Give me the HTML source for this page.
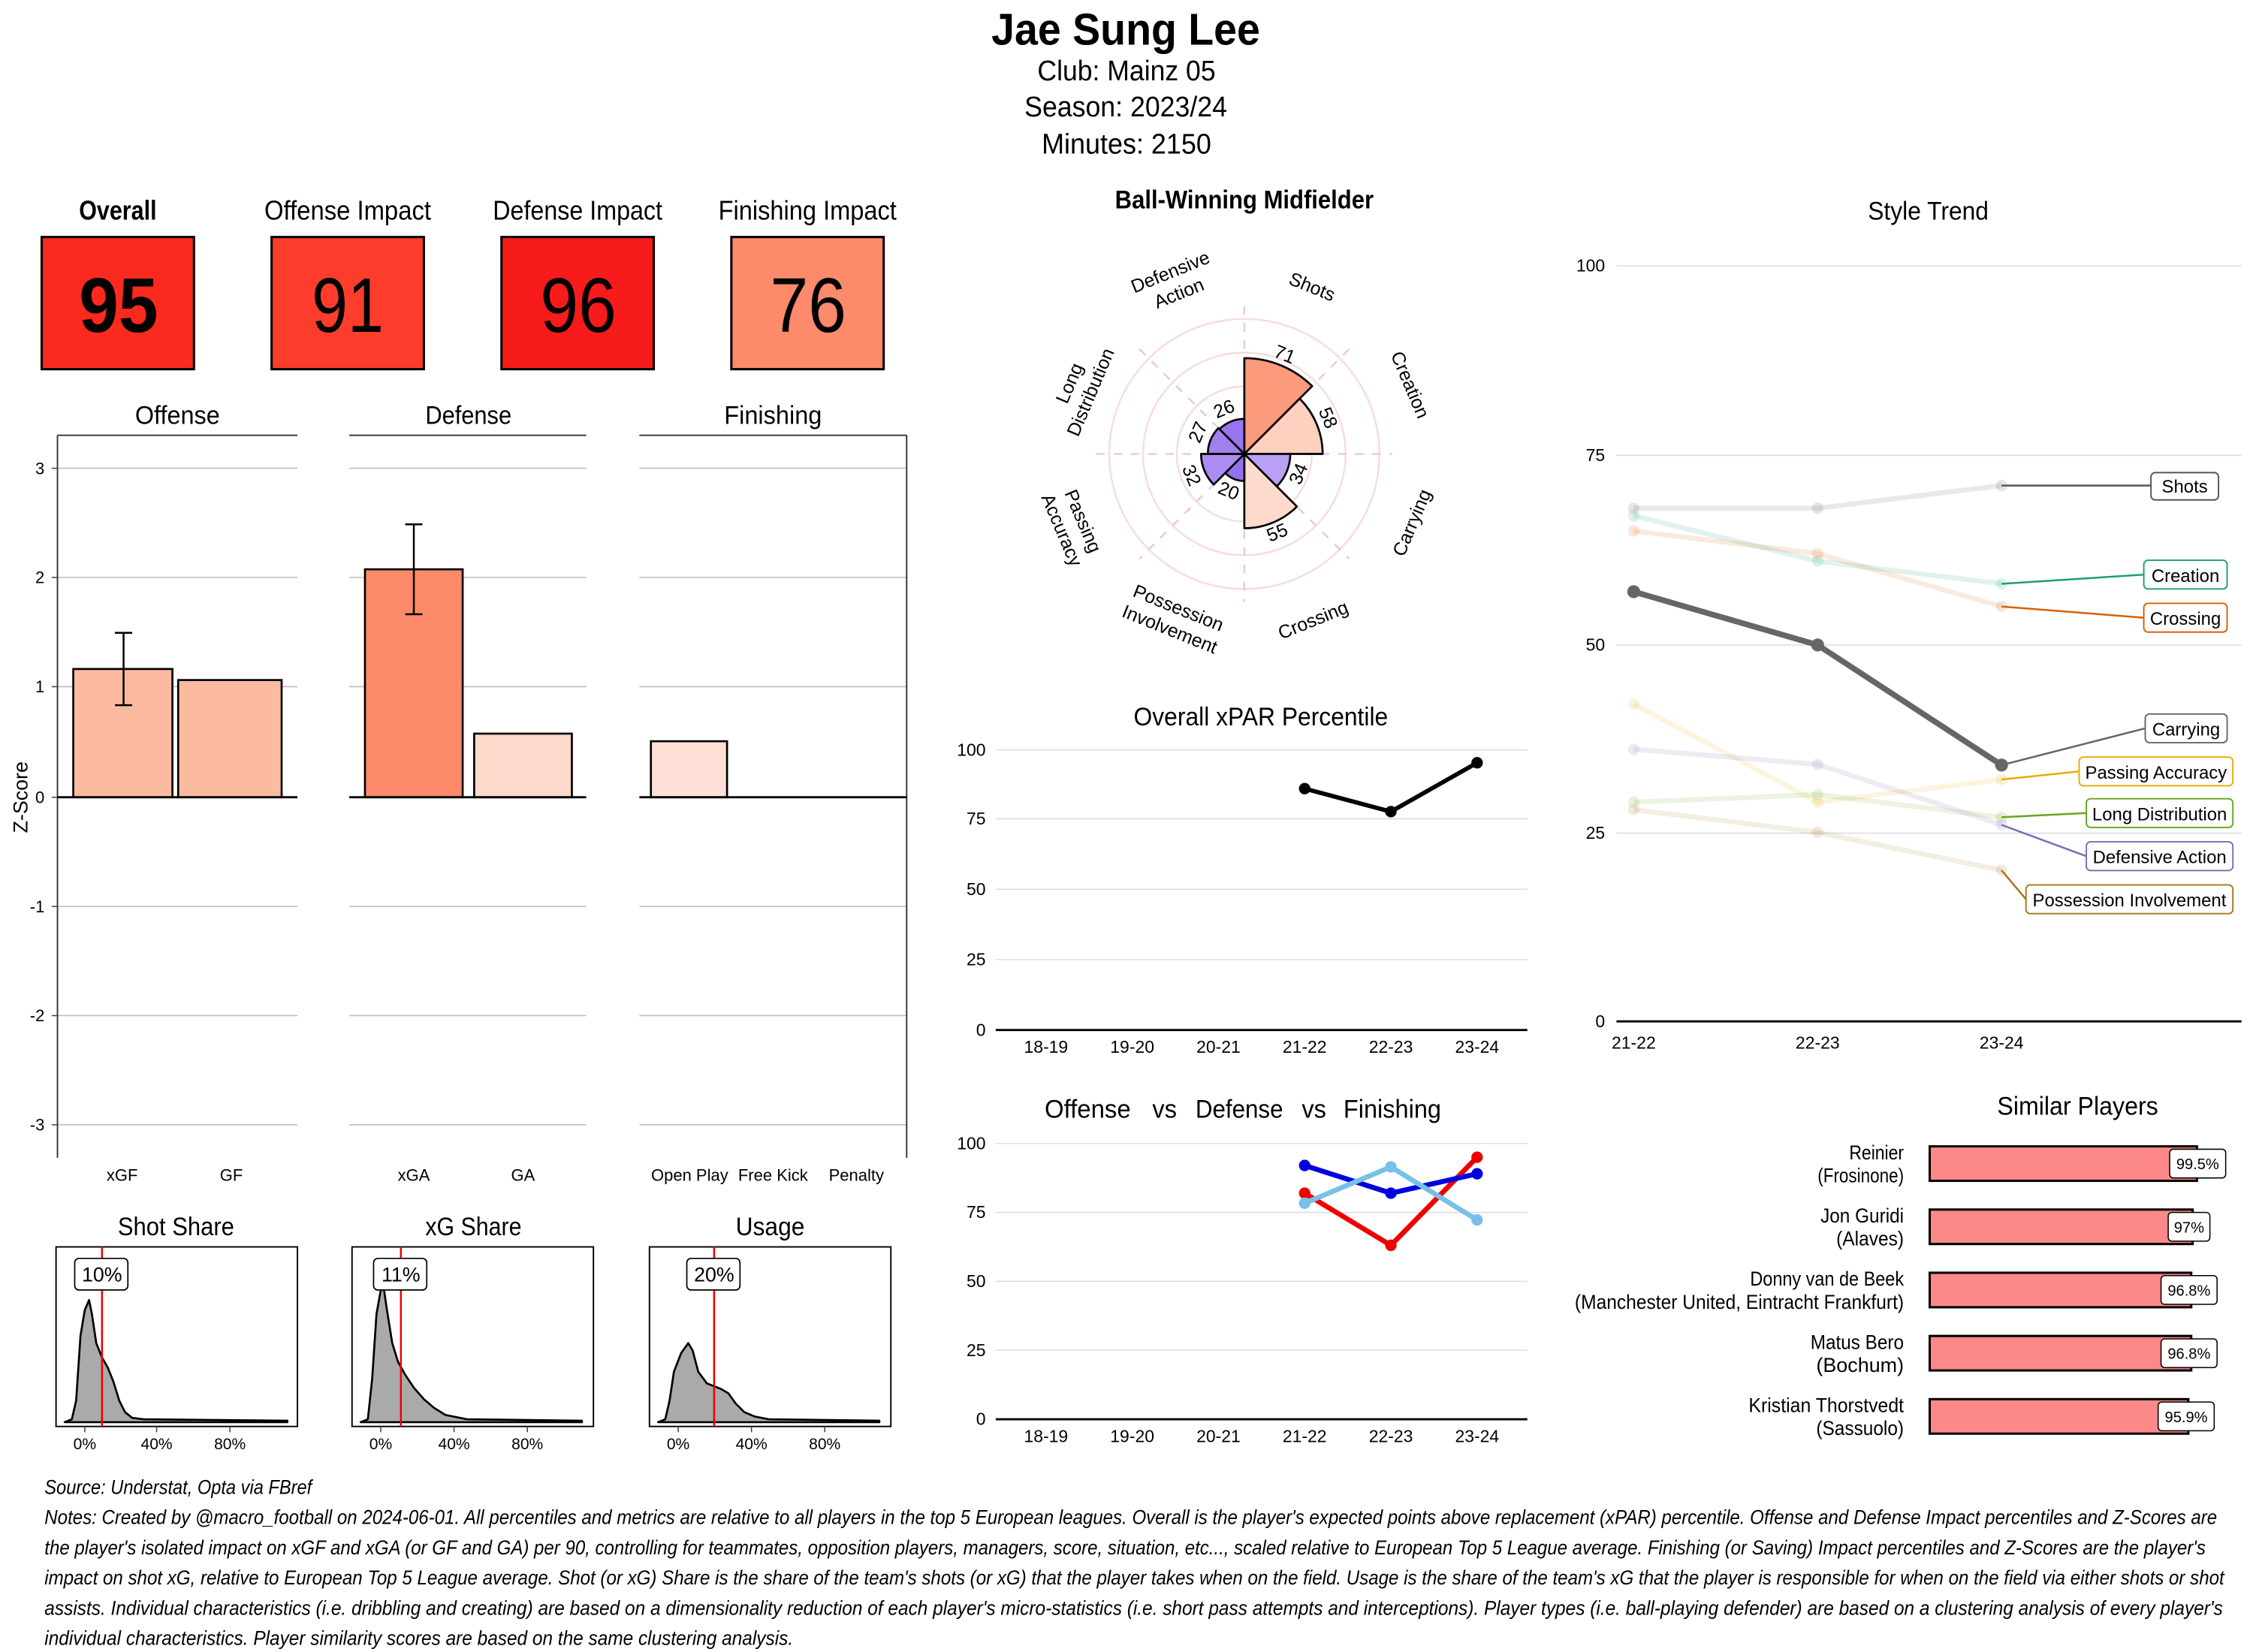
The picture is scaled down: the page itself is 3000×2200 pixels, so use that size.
<!DOCTYPE html>
<html><head><meta charset="utf-8"><style>
html,body{margin:0;padding:0;background:#fff;}
svg{display:block;}
text{font-family:"Liberation Sans Narrow","Liberation Sans",sans-serif;fill:#000;}
.a{font-family:"Liberation Sans",sans-serif;}
</style></head><body>
<svg width="3000" height="2200" viewBox="0 0 1568 1150" preserveAspectRatio="none" xmlns="http://www.w3.org/2000/svg">
<rect width="1568" height="1150" fill="#fff"/>
<!-- Header -->
<text x="690" y="31" font-size="31" font-weight="bold" textLength="187" lengthAdjust="spacingAndGlyphs">Jae Sung Lee</text>
<text x="722" y="56" font-size="20" textLength="124" lengthAdjust="spacingAndGlyphs">Club:  Mainz 05</text>
<text x="713" y="81" font-size="20" textLength="141" lengthAdjust="spacingAndGlyphs">Season:  2023/24</text>
<text x="725" y="107" font-size="20" textLength="118" lengthAdjust="spacingAndGlyphs">Minutes:  2150</text>

<!-- Impact boxes -->
<g font-size="19">
<text x="55" y="153" font-weight="bold" textLength="54" lengthAdjust="spacingAndGlyphs">Overall</text>
<text x="184" y="153" textLength="116" lengthAdjust="spacingAndGlyphs">Offense Impact</text>
<text x="343" y="153" textLength="118" lengthAdjust="spacingAndGlyphs">Defense Impact</text>
<text x="500" y="153" textLength="124" lengthAdjust="spacingAndGlyphs">Finishing Impact</text>
</g>
<g stroke="#000" stroke-width="1.6">
<rect x="29" y="165" width="106" height="92" fill="#fb2a1e"/>
<rect x="189" y="165" width="106" height="92" fill="#fc3d2b"/>
<rect x="349" y="165" width="106" height="92" fill="#f71c1b"/>
<rect x="509" y="165" width="106" height="92" fill="#fc8a6b"/>
</g>
<g font-size="54">
<text x="55" y="231" font-weight="bold" textLength="55" lengthAdjust="spacingAndGlyphs">95</text>
<text x="217" y="231" textLength="50" lengthAdjust="spacingAndGlyphs">91</text>
<text x="376" y="231" textLength="53" lengthAdjust="spacingAndGlyphs">96</text>
<text x="536" y="231" textLength="53" lengthAdjust="spacingAndGlyphs">76</text>
</g>

<!-- Z score panels -->
<g font-size="18">
<text x="94" y="295" textLength="59" lengthAdjust="spacingAndGlyphs">Offense</text>
<text x="296" y="295" textLength="60" lengthAdjust="spacingAndGlyphs">Defense</text>
<text x="504" y="295" textLength="68" lengthAdjust="spacingAndGlyphs">Finishing</text>
</g>
<g stroke="#bbb" stroke-width="0.8">
<line x1="40" x2="207" y1="326" y2="326"/><line x1="40" x2="207" y1="402" y2="402"/><line x1="40" x2="207" y1="478" y2="478"/><line x1="40" x2="207" y1="631" y2="631"/><line x1="40" x2="207" y1="707" y2="707"/><line x1="40" x2="207" y1="783" y2="783"/>
<line x1="243" x2="408" y1="326" y2="326"/><line x1="243" x2="408" y1="402" y2="402"/><line x1="243" x2="408" y1="478" y2="478"/><line x1="243" x2="408" y1="631" y2="631"/><line x1="243" x2="408" y1="707" y2="707"/><line x1="243" x2="408" y1="783" y2="783"/>
<line x1="445" x2="631" y1="326" y2="326"/><line x1="445" x2="631" y1="402" y2="402"/><line x1="445" x2="631" y1="478" y2="478"/><line x1="445" x2="631" y1="631" y2="631"/><line x1="445" x2="631" y1="707" y2="707"/><line x1="445" x2="631" y1="783" y2="783"/>
</g>
<g stroke="#333" stroke-width="1" fill="none">
<line x1="40" x2="207" y1="303" y2="303"/><line x1="40" x2="40" y1="303" y2="806"/>
<line x1="243" x2="408" y1="303" y2="303"/>
<line x1="445" x2="631" y1="303" y2="303"/><line x1="631" x2="631" y1="303" y2="806"/>
</g>
<g stroke="#000" stroke-width="1.4">
<rect x="51" y="465.7" width="69" height="89.3" fill="#fcbba1"/>
<rect x="124" y="473.4" width="72" height="81.6" fill="#fcbba1"/>
<rect x="254" y="396.3" width="68" height="158.7" fill="#fc8a6a"/>
<rect x="330" y="510.7" width="68" height="44.3" fill="#fdd9cb"/>
<rect x="453" y="516" width="53" height="39" fill="#fee0d6"/>
</g>
<g stroke="#000" stroke-width="1.3">
<line x1="86" x2="86" y1="440.5" y2="490.9"/><line x1="80" x2="92" y1="440.5" y2="440.5"/><line x1="80" x2="92" y1="490.9" y2="490.9"/>
<line x1="288" x2="288" y1="365" y2="427.6"/><line x1="282" x2="294" y1="365" y2="365"/><line x1="282" x2="294" y1="427.6" y2="427.6"/>
<line x1="40" x2="207" y1="555" y2="555" stroke-width="1.5"/><line x1="243" x2="408" y1="555" y2="555" stroke-width="1.5"/><line x1="445" x2="631" y1="555" y2="555" stroke-width="1.5"/>
</g>
<g font-size="11.5" fill="#444" text-anchor="end">
<text x="31" y="330">3</text><text x="31" y="406">2</text><text x="31" y="482">1</text><text x="31" y="559">0</text><text x="31" y="635">-1</text><text x="31" y="711">-2</text><text x="31" y="787">-3</text>
</g>
<g stroke="#444" stroke-width="0.8"><line x1="36" x2="40" y1="326" y2="326"/><line x1="36" x2="40" y1="402" y2="402"/><line x1="36" x2="40" y1="478" y2="478"/><line x1="36" x2="40" y1="555" y2="555"/><line x1="36" x2="40" y1="631" y2="631"/><line x1="36" x2="40" y1="707" y2="707"/><line x1="36" x2="40" y1="783" y2="783"/></g>
<text x="19" y="555" font-size="14" class="a" text-anchor="middle" transform="rotate(-90 19 555)">Z-Score</text>
<g font-size="11.5" fill="#444" text-anchor="middle">
<text x="85" y="822">xGF</text><text x="161" y="822">GF</text><text x="288" y="822">xGA</text><text x="364" y="822">GA</text>
<text x="480" y="822">Open Play</text><text x="538" y="822">Free Kick</text><text x="596" y="822">Penalty</text>
</g>

<!-- Density plots -->
<g font-size="18">
<text x="82" y="860" textLength="81" lengthAdjust="spacingAndGlyphs">Shot Share</text><text x="296" y="860" textLength="67" lengthAdjust="spacingAndGlyphs">xG Share</text><text x="512" y="860" textLength="48" lengthAdjust="spacingAndGlyphs">Usage</text>
</g>
<g stroke="#000" stroke-width="1" fill="none">
<rect x="39" y="868" width="168" height="125"/><rect x="245" y="868" width="168" height="125"/><rect x="452" y="868" width="168" height="125"/>
</g>
<g fill="#aaa" stroke="#000" stroke-width="1.4" stroke-linejoin="round">
<path d="M45,990 L50,988 L53,975 L56,930 L59,912 L62,905 L64,915 L67,935 L71,945 L75,952 L79,962 L83,975 L87,983 L92,987 L100,988 L200,989 L200,990 Z"/>
<path d="M251,990 L256,988 L259,960 L262,915 L265,898 L267,896 L269,910 L273,935 L277,948 L282,957 L288,966 L295,974 L302,980 L310,985 L325,988 L405,989 L405,990 Z"/>
<path d="M458,990 L463,988 L466,975 L469,955 L474,942 L479,935 L482,940 L486,955 L492,963 L497,965 L502,967 L507,970 L512,977 L518,983 L525,986 L535,988 L612,989 L612,990 Z"/>
</g>
<g stroke="#e00" stroke-width="1.3"><line x1="71" x2="71" y1="868" y2="993"/><line x1="279" x2="279" y1="868" y2="993"/><line x1="497" x2="497" y1="868" y2="993"/></g>
<g fill="#fff" stroke="#000" stroke-width="0.9">
<rect x="52" y="876" width="37" height="22" rx="3"/><rect x="260" y="876" width="37" height="22" rx="3"/><rect x="478" y="876" width="37" height="22" rx="3"/>
</g>
<g font-size="14" text-anchor="middle"><text x="71" y="892">10%</text><text x="279" y="892">11%</text><text x="497" y="892">20%</text></g>
<g stroke="#444" stroke-width="0.8"><line x1="59" x2="59" y1="993" y2="997"/><line x1="109" x2="109" y1="993" y2="997"/><line x1="160" x2="160" y1="993" y2="997"/><line x1="265" x2="265" y1="993" y2="997"/><line x1="316" x2="316" y1="993" y2="997"/><line x1="367" x2="367" y1="993" y2="997"/><line x1="472" x2="472" y1="993" y2="997"/><line x1="523" x2="523" y1="993" y2="997"/><line x1="574" x2="574" y1="993" y2="997"/></g>
<g font-size="11" fill="#444" text-anchor="middle">
<text x="59" y="1009">0%</text><text x="109" y="1009">40%</text><text x="160" y="1009">80%</text>
<text x="265" y="1009">0%</text><text x="316" y="1009">40%</text><text x="367" y="1009">80%</text>
<text x="472" y="1009">0%</text><text x="523" y="1009">40%</text><text x="574" y="1009">80%</text>
</g>

<!-- Radar -->
<text x="776" y="145" font-size="18" font-weight="bold" textLength="180" lengthAdjust="spacingAndGlyphs">Ball-Winning Midfielder</text>
<g fill="none" stroke="#f8dcdc" stroke-width="1.3">
<circle cx="866" cy="316" r="94"/><circle cx="866" cy="316" r="70.5"/><circle cx="866" cy="316" r="47"/>
</g>
<g stroke="#e8c8c8" stroke-width="1.2" stroke-dasharray="6,6">
<line x1="866" y1="213" x2="866" y2="419"/><line x1="763" y1="316" x2="969" y2="316"/>
<line x1="793" y1="243" x2="939" y2="389"/><line x1="939" y1="243" x2="793" y2="389"/>
</g>
<g stroke="#000" stroke-width="1.4" stroke-linejoin="round">
<path d="M866,316 L866,249.3 A66.7,66.7 0 0 1 913.2,268.8 Z" fill="#fc9a7c"/>
<path d="M866,316 L904.5,277.5 A54.5,54.5 0 0 1 920.5,316 Z" fill="#fdd0c0"/>
<path d="M866,316 L898,316 A32,32 0 0 1 888.6,338.6 Z" fill="#b9a0f5"/>
<path d="M866,316 L902.6,352.6 A51.7,51.7 0 0 1 866,367.7 Z" fill="#fddacc"/>
<path d="M866,316 L866,334.8 A18.8,18.8 0 0 1 852.7,329.3 Z" fill="#9470ee"/>
<path d="M866,316 L844.7,337.3 A30.1,30.1 0 0 1 835.9,316 Z" fill="#ab8cf2"/>
<path d="M866,316 L840.6,316 A25.4,25.4 0 0 1 848,298 Z" fill="#a080f0"/>
<path d="M866,316 L848.7,298.7 A24.4,24.4 0 0 1 866,291.6 Z" fill="#9a74ef"/>
</g>
<g font-size="13" class="a" text-anchor="middle">
<text class="a" x="894" y="251" transform="rotate(22 894 247)">71</text>
<text class="a" x="924" y="295" transform="rotate(67 924 291)">58</text>
<text class="a" x="904" y="334" transform="rotate(-67 904 330)">34</text>
<text class="a" x="889" y="375" transform="rotate(-22 889 371)">55</text>
<text class="a" x="855" y="346" transform="rotate(22 855 342)">20</text>
<text class="a" x="829" y="335" transform="rotate(67 829 331)">32</text>
<text class="a" x="834" y="305" transform="rotate(-67 834 301)">27</text>
<text class="a" x="852" y="289" transform="rotate(-22 852 285)">26</text>
</g>
<g font-size="13" text-anchor="middle">
<g transform="rotate(-22 818 198)"><text class="a" x="818" y="193">Defensive</text><text class="a" x="818" y="209">Action</text></g>
<text class="a" x="913" y="204" transform="rotate(22 913 200)">Shots</text>
<text class="a" x="981" y="272" transform="rotate(67 981 268)">Creation</text>
<text class="a" x="983" y="368" transform="rotate(-67 983 364)">Carrying</text>
<text class="a" x="914" y="436" transform="rotate(-22 914 432)">Crossing</text>
<g transform="rotate(22 817 431)"><text class="a" x="817" y="427">Possession</text><text class="a" x="817" y="443">Involvement</text></g>
<g transform="rotate(67 746 366)"><text class="a" x="746" y="362">Passing</text><text class="a" x="746" y="378">Accuracy</text></g>
<g transform="rotate(-67 752 270)"><text class="a" x="752" y="266">Long</text><text class="a" x="752" y="282">Distribution</text></g>
</g>

<!-- Overall xPAR -->
<text x="789" y="505" font-size="18" textLength="177" lengthAdjust="spacingAndGlyphs">Overall xPAR Percentile</text>
<g stroke="#ddd" stroke-width="0.8"><line x1="693" x2="1063" y1="522" y2="522"/><line x1="693" x2="1063" y1="570" y2="570"/><line x1="693" x2="1063" y1="619" y2="619"/><line x1="693" x2="1063" y1="668" y2="668"/></g>
<line x1="693" x2="1063" y1="717" y2="717" stroke="#000" stroke-width="1.5"/>
<g font-size="12" fill="#444" class="a" text-anchor="end"><text class="a" x="686" y="526" fill="#444">100</text><text class="a" x="686" y="574" fill="#444">75</text><text class="a" x="686" y="623" fill="#444">50</text><text class="a" x="686" y="672" fill="#444">25</text><text class="a" x="686" y="721" fill="#444">0</text></g>
<g font-size="12" text-anchor="middle"><text class="a" x="728" y="733" fill="#444">18-19</text><text class="a" x="788" y="733" fill="#444">19-20</text><text class="a" x="848" y="733" fill="#444">20-21</text><text class="a" x="908" y="733" fill="#444">21-22</text><text class="a" x="968" y="733" fill="#444">22-23</text><text class="a" x="1028" y="733" fill="#444">23-24</text></g>
<polyline points="908,549 968,565 1028,531" fill="none" stroke="#000" stroke-width="3"/>
<g fill="#000"><circle cx="908" cy="549" r="4"/><circle cx="968" cy="565" r="4"/><circle cx="1028" cy="531" r="4"/></g>

<!-- Offense vs Defense vs Finishing -->
<g font-size="18">
<text x="727" y="778" fill="#0000dd" textLength="60" lengthAdjust="spacingAndGlyphs">Offense</text><text x="802" y="778" textLength="17" lengthAdjust="spacingAndGlyphs">vs</text><text x="832" y="778" fill="#ee0000" textLength="61" lengthAdjust="spacingAndGlyphs">Defense</text><text x="906" y="778" textLength="17" lengthAdjust="spacingAndGlyphs">vs</text><text x="935" y="778" fill="#78c0e8" textLength="68" lengthAdjust="spacingAndGlyphs">Finishing</text>
</g>
<g stroke="#ddd" stroke-width="0.8"><line x1="693" x2="1063" y1="796" y2="796"/><line x1="693" x2="1063" y1="844" y2="844"/><line x1="693" x2="1063" y1="892" y2="892"/><line x1="693" x2="1063" y1="940" y2="940"/></g>
<line x1="693" x2="1063" y1="988" y2="988" stroke="#000" stroke-width="1.5"/>
<g font-size="12" text-anchor="end"><text class="a" x="686" y="800" fill="#444">100</text><text class="a" x="686" y="848" fill="#444">75</text><text class="a" x="686" y="896" fill="#444">50</text><text class="a" x="686" y="944" fill="#444">25</text><text class="a" x="686" y="992" fill="#444">0</text></g>
<g font-size="12" text-anchor="middle"><text class="a" x="728" y="1004" fill="#444">18-19</text><text class="a" x="788" y="1004" fill="#444">19-20</text><text class="a" x="848" y="1004" fill="#444">20-21</text><text class="a" x="908" y="1004" fill="#444">21-22</text><text class="a" x="968" y="1004" fill="#444">22-23</text><text class="a" x="1028" y="1004" fill="#444">23-24</text></g>
<g fill="none" stroke-width="3.5">
<polyline points="908,830.6 968,866.9 1028,805.6" stroke="#ee0000"/>
<polyline points="908,811.3 968,830.6 1028,817.1" stroke="#0000dd"/>
<polyline points="908,837.6 968,812.3 1028,849.2" stroke="#78c0e8"/>
</g>
<g><circle cx="908" cy="830.6" r="4" fill="#ee0000"/><circle cx="968" cy="866.9" r="4" fill="#ee0000"/><circle cx="1028" cy="805.6" r="4" fill="#ee0000"/>
<circle cx="908" cy="811.3" r="4" fill="#0000dd"/><circle cx="968" cy="830.6" r="4" fill="#0000dd"/><circle cx="1028" cy="817.1" r="4" fill="#0000dd"/>
<circle cx="908" cy="837.6" r="4" fill="#78c0e8"/><circle cx="968" cy="812.3" r="4" fill="#78c0e8"/><circle cx="1028" cy="849.2" r="4" fill="#78c0e8"/></g>

<!-- Style Trend -->
<text x="1300" y="153" font-size="18" textLength="84" lengthAdjust="spacingAndGlyphs">Style Trend</text>
<g stroke="#ddd" stroke-width="0.8"><line x1="1125" x2="1560" y1="185" y2="185"/><line x1="1125" x2="1560" y1="317" y2="317"/><line x1="1125" x2="1560" y1="449" y2="449"/><line x1="1125" x2="1560" y1="580" y2="580"/></g>
<line x1="1125" x2="1560" y1="711" y2="711" stroke="#000" stroke-width="1.5"/>
<g font-size="12" text-anchor="end"><text class="a" x="1117" y="189" fill="#444">100</text><text class="a" x="1117" y="321" fill="#444">75</text><text class="a" x="1117" y="453" fill="#444">50</text><text class="a" x="1117" y="584" fill="#444">25</text><text class="a" x="1117" y="715" fill="#444">0</text></g>
<g font-size="12" text-anchor="middle"><text class="a" x="1137" y="730" fill="#444">21-22</text><text class="a" x="1265" y="730" fill="#444">22-23</text><text class="a" x="1393" y="730" fill="#444">23-24</text></g>
<g fill="none" stroke-width="3.5" stroke-opacity="0.13">
<polyline points="1137,353.8 1265,353.8 1393,338" stroke="#555"/>
<polyline points="1137,359 1265,390.6 1393,406.4" stroke="#1b9e77"/>
<polyline points="1137,369.6 1265,385.4 1393,422.2" stroke="#d95f02"/>
<polyline points="1137,490 1265,558.4 1393,542.6" stroke="#e6ab02"/>
<polyline points="1137,558.4 1265,553.1 1393,568.9" stroke="#66a61e"/>
<polyline points="1137,521.6 1265,532.1 1393,574.2" stroke="#7570b3"/>
<polyline points="1137,563.6 1265,579.4 1393,605.8" stroke="#a6761d"/>
</g>
<g fill-opacity="0.15">
<circle cx="1137" cy="353.8" r="4" fill="#555"/><circle cx="1265" cy="353.8" r="4" fill="#555"/><circle cx="1393" cy="338" r="4" fill="#555"/>
<circle cx="1137" cy="359" r="4" fill="#1b9e77"/><circle cx="1265" cy="390.6" r="4" fill="#1b9e77"/><circle cx="1393" cy="406.4" r="4" fill="#1b9e77"/>
<circle cx="1137" cy="369.6" r="4" fill="#d95f02"/><circle cx="1265" cy="385.4" r="4" fill="#d95f02"/><circle cx="1393" cy="422.2" r="4" fill="#d95f02"/>
<circle cx="1137" cy="490" r="4" fill="#e6ab02"/><circle cx="1265" cy="558.4" r="4" fill="#e6ab02"/><circle cx="1393" cy="542.6" r="4" fill="#e6ab02"/>
<circle cx="1137" cy="558.4" r="4" fill="#66a61e"/><circle cx="1265" cy="553.1" r="4" fill="#66a61e"/><circle cx="1393" cy="568.9" r="4" fill="#66a61e"/>
<circle cx="1137" cy="521.6" r="4" fill="#7570b3"/><circle cx="1265" cy="532.1" r="4" fill="#7570b3"/><circle cx="1393" cy="574.2" r="4" fill="#7570b3"/>
<circle cx="1137" cy="563.6" r="4" fill="#a6761d"/><circle cx="1265" cy="579.4" r="4" fill="#a6761d"/><circle cx="1393" cy="605.8" r="4" fill="#a6761d"/>
</g>
<polyline points="1137,411.9 1265,449 1393,532.6" fill="none" stroke="#666" stroke-width="4"/>
<g fill="#666"><circle cx="1137" cy="411.9" r="4.5"/><circle cx="1265" cy="449" r="4.5"/><circle cx="1393" cy="532.6" r="4.5"/></g>
<g fill="none" stroke-width="1.3">
<line x1="1393" y1="338" x2="1497" y2="338" stroke="#555"/>
<line x1="1393" y1="406.4" x2="1492" y2="400" stroke="#1b9e77"/>
<line x1="1393" y1="422.2" x2="1492" y2="430" stroke="#d95f02"/>
<line x1="1393" y1="532.6" x2="1493" y2="507" stroke="#666"/>
<line x1="1393" y1="542.6" x2="1447" y2="537" stroke="#e6ab02"/>
<line x1="1393" y1="568.9" x2="1452" y2="566" stroke="#66a61e"/>
<line x1="1393" y1="574.2" x2="1452" y2="596" stroke="#7570b3"/>
<path d="M1393,605.8 L1410,626" stroke="#a6761d"/>
</g>
<g fill="#fff" stroke-width="1">
<rect x="1497" y="329" width="47" height="19" rx="3" stroke="#555"/>
<rect x="1492" y="390" width="58" height="20" rx="3" stroke="#1b9e77"/>
<rect x="1492" y="420" width="58" height="20" rx="3" stroke="#d95f02"/>
<rect x="1493" y="497" width="57" height="20" rx="3" stroke="#666"/>
<rect x="1447" y="527" width="107" height="20" rx="3" stroke="#e6ab02"/>
<rect x="1452" y="556" width="102" height="20" rx="3" stroke="#66a61e"/>
<rect x="1452" y="586" width="102" height="20" rx="3" stroke="#7570b3"/>
<rect x="1410" y="616" width="144" height="20" rx="3" stroke="#a6761d"/>
</g>
<g font-size="12.5" text-anchor="middle">
<text class="a" x="1520.5" y="343" fill="#555">Shots</text>
<text class="a" x="1521" y="405" fill="#1b9e77">Creation</text>
<text class="a" x="1521" y="435" fill="#d95f02">Crossing</text>
<text class="a" x="1521.5" y="512" fill="#666">Carrying</text>
<text class="a" x="1500.5" y="542" fill="#e6ab02">Passing Accuracy</text>
<text class="a" x="1503" y="571" fill="#66a61e">Long Distribution</text>
<text class="a" x="1503" y="601" fill="#7570b3">Defensive Action</text>
<text class="a" x="1482" y="631" fill="#a6761d">Possession Involvement</text>
</g>

<!-- Similar Players -->
<text x="1390" y="776" font-size="18" textLength="112" lengthAdjust="spacingAndGlyphs">Similar Players</text>
<g fill="#fd8888" stroke="#000" stroke-width="1.6">
<rect x="1343" y="798" width="186" height="24"/>
<rect x="1343" y="842" width="183" height="24"/>
<rect x="1343" y="886" width="182" height="24"/>
<rect x="1343" y="930" width="182" height="24"/>
<rect x="1343" y="974" width="180" height="24"/>
</g>
<g fill="#fff" stroke="#000" stroke-width="0.8">
<rect x="1510" y="800" width="39" height="20" rx="2.5"/>
<rect x="1509" y="844" width="29" height="20" rx="2.5"/>
<rect x="1504" y="888" width="39" height="20" rx="2.5"/>
<rect x="1504" y="932" width="39" height="20" rx="2.5"/>
<rect x="1502" y="976" width="39" height="20" rx="2.5"/>
</g>
<g font-size="10.5" text-anchor="middle">
<text class="a" x="1529.5" y="814">99.5%</text><text class="a" x="1523.5" y="858">97%</text><text class="a" x="1523.5" y="902">96.8%</text><text class="a" x="1523.5" y="946">96.8%</text><text class="a" x="1521.5" y="990">95.9%</text>
</g>
<g font-size="14">
<text x="1287" y="807" textLength="38" lengthAdjust="spacingAndGlyphs">Reinier</text><text x="1265" y="823" textLength="60" lengthAdjust="spacingAndGlyphs">(Frosinone)</text>
<text x="1267" y="851" textLength="58" lengthAdjust="spacingAndGlyphs">Jon Guridi</text><text x="1278" y="867" textLength="47" lengthAdjust="spacingAndGlyphs">(Alaves)</text>
<text x="1218" y="895" textLength="107" lengthAdjust="spacingAndGlyphs">Donny van de Beek</text><text x="1096" y="911" textLength="229" lengthAdjust="spacingAndGlyphs">(Manchester United, Eintracht Frankfurt)</text>
<text x="1260" y="939" textLength="65" lengthAdjust="spacingAndGlyphs">Matus Bero</text><text x="1264" y="955" textLength="61" lengthAdjust="spacingAndGlyphs">(Bochum)</text>
<text x="1217" y="983" textLength="108" lengthAdjust="spacingAndGlyphs">Kristian Thorstvedt</text><text x="1264" y="999" textLength="61" lengthAdjust="spacingAndGlyphs">(Sassuolo)</text>
</g>

<!-- Footer -->
<g font-size="14" font-style="italic">
<text x="31" y="1040" textLength="186" lengthAdjust="spacingAndGlyphs">Source: Understat, Opta via FBref</text>
<text x="31" y="1061" textLength="1512" lengthAdjust="spacingAndGlyphs">Notes: Created by @macro_football on 2024-06-01. All percentiles and metrics are relative to all players in the top 5 European leagues. Overall is the player's expected points above replacement (xPAR) percentile. Offense and Defense Impact percentiles and Z-Scores are</text>
<text x="31" y="1082" textLength="1504" lengthAdjust="spacingAndGlyphs">the player's isolated impact on xGF and xGA (or GF and GA) per 90, controlling for teammates, opposition players, managers, score, situation, etc..., scaled relative to European Top 5 League average. Finishing (or Saving) Impact percentiles and Z-Scores are the player's</text>
<text x="31" y="1103" textLength="1517" lengthAdjust="spacingAndGlyphs">impact on shot xG, relative to European Top 5 League average. Shot (or xG) Share is the share of the team's shots (or xG) that the player takes when on the field. Usage is the share of the team's xG that the player is responsible for when on the field via either shots or shot</text>
<text x="31" y="1124" textLength="1516" lengthAdjust="spacingAndGlyphs">assists. Individual characteristics (i.e. dribbling and creating) are based on a dimensionality reduction of each player's micro-statistics (i.e. short pass attempts and interceptions). Player types (i.e. ball-playing defender) are based on a clustering analysis of every player's</text>
<text x="31" y="1145" textLength="521" lengthAdjust="spacingAndGlyphs">individual characteristics. Player similarity scores are based on the same clustering analysis.</text>
</g>
</svg>
</body></html>
